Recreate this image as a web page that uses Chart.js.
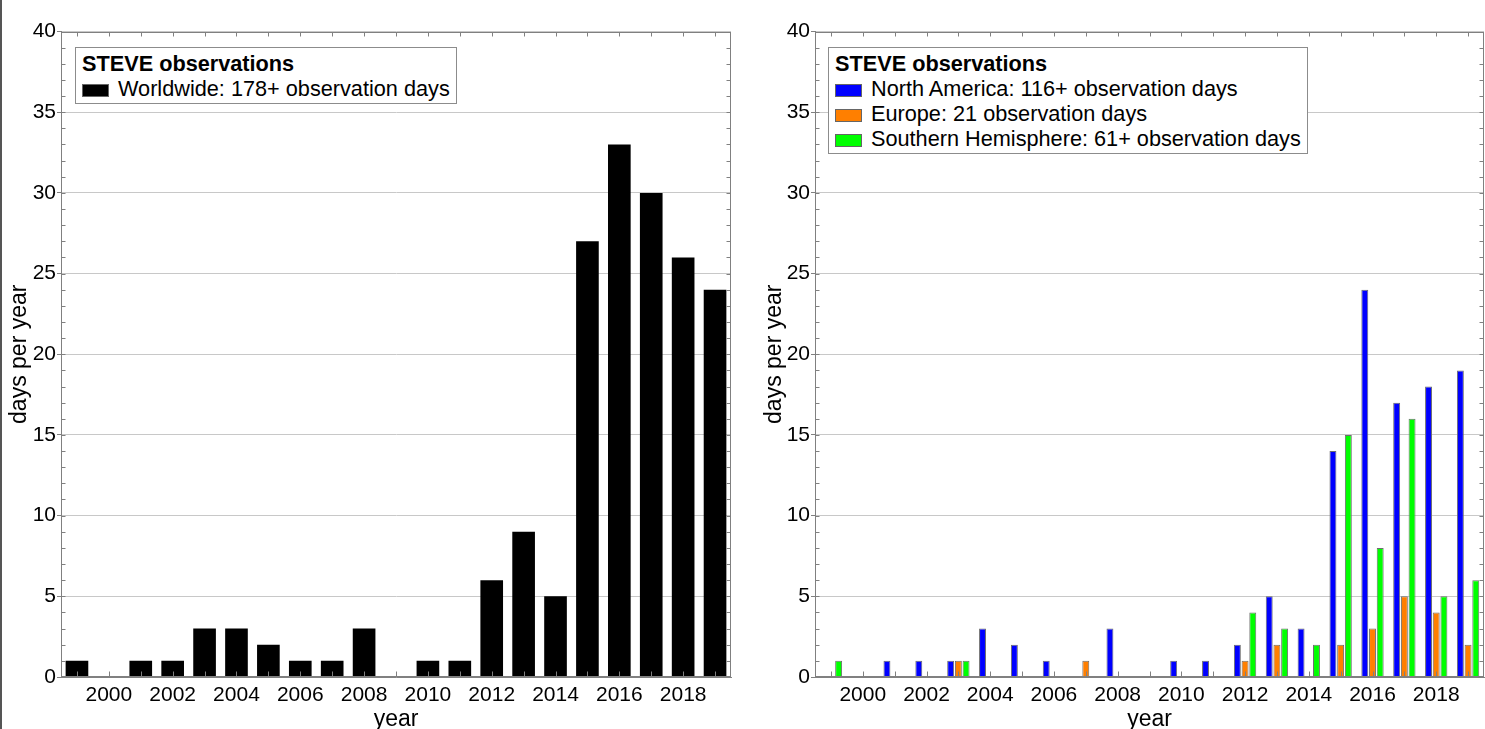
<!DOCTYPE html>
<html>
<head>
<meta charset="utf-8">
<title>STEVE observations</title>
<script src="https://cdn.jsdelivr.net/npm/chart.js@4/dist/chart.umd.min.js"></script>
<style>
  body { margin: 0; background: #fff; width: 1485px; height: 729px; overflow: hidden; position: relative;
         font-family: "Liberation Sans", Arial, sans-serif; }
  .edge { position: absolute; left: 0; top: 0; width: 2px; height: 729px; background: #555; }
  #left { position: absolute; left: 0; top: 0; }
  #right { position: absolute; left: 755px; top: 0; }
  .legend { position: absolute; top: 47px; background: #fff; border: 1px solid #8c8c8c;
            padding: 3px 6px 2px 6px; font-size: 21.7px; line-height: 25px; color: #000; white-space: nowrap; }
  .legend .ttl { font-weight: bold; }
  .legend .sw { display: inline-block; width: 25px; height: 11px; border: 1px solid #666;
                margin-right: 9px; vertical-align: -1px; }
</style>
</head>
<body>
<div class="edge"></div>
<canvas id="left" width="755" height="729"></canvas>
<canvas id="right" width="730" height="729"></canvas>
<div class="legend" id="legLeft" style="left:75px"></div>
<div class="legend" id="legRight" style="left:828px"></div>
<script>
// data
var years = ['1999', '2000', '2001', '2002', '2003', '2004', '2005', '2006', '2007', '2008', '2009',
             '2010', '2011', '2012', '2013', '2014', '2015', '2016', '2017', '2018', '2019'];
var worldwide    = [1, 0, 1, 1, 3, 3, 2, 1, 1, 3, 0, 1, 1, 6, 9, 5, 27, 33, 30, 26, 24];
var northAmerica = [0, 0, 1, 1, 1, 3, 2, 1, 0, 3, 0, 1, 1, 2, 5, 3, 14, 24, 17, 18, 19];
var europe       = [0, 0, 0, 0, 1, 0, 0, 0, 1, 0, 0, 0, 0, 1, 2, 0, 2, 3, 5, 4, 2];
var southern     = [1, 0, 0, 0, 1, 0, 0, 0, 0, 0, 0, 0, 0, 4, 3, 2, 15, 8, 16, 5, 6];

var legendTitle = 'STEVE observations';
var leftLabels = ['Worldwide: 178+ observation days'];
var rightLabels = ['North America: 116+ observation days', 'Europe: 21 observation days',
                   'Southern Hemisphere: 61+ observation days'];
var leftColors = ['#000000'];
var rightColors = ['#0000ff', '#ff7f00', '#00ff00'];

// frame round the plot plus small inward ticks (each year / each day)
var framePlugin = {
    id: 'frame',
    afterDraw: function(chart) {
        var ctx = chart.ctx, a = chart.chartArea;
        var x = chart.scales.x, y = chart.scales.y;
        var l = Math.round(a.left) + 0.5, r = Math.round(a.right) - 0.5;
        var t = Math.round(a.top) + 0.5, b = Math.round(a.bottom) - 0.5;
        ctx.save();
        ctx.strokeStyle = '#808080';
        ctx.lineWidth = 1;
        ctx.strokeRect(l, t, r - l, b - t);
        ctx.beginPath();
        for (var v = 0; v <= 40; v++) {
            var py = Math.round(y.getPixelForValue(v)) + 0.5;
            ctx.moveTo(l, py); ctx.lineTo(l + 4, py);
            ctx.moveTo(r, py); ctx.lineTo(r - 4, py);
        }
        for (var i = 0; i < years.length; i++) {
            var px = Math.round(x.getPixelForTick(i)) + 0.5;
            ctx.moveTo(px, t); ctx.lineTo(px, t + 4);
            ctx.moveTo(px, b); ctx.lineTo(px, b - 5);
        }
        ctx.stroke();
        ctx.restore();
    }
};

function makeOptions(yWidth, padRight) {
    return {
        responsive: false,
        animation: false,
        devicePixelRatio: 1,
        layout: { padding: { left: 0, top: 31.5, right: padRight, bottom: 0 } },
        plugins: { legend: { display: false }, tooltip: { enabled: false } },
        scales: {
            x: {
                grid: { display: false, drawTicks: false },
                border: { color: '#808080' },
                ticks: {
                    color: '#000', font: { size: 21, family: 'Liberation Sans' },
                    autoSkip: false, maxRotation: 0, padding: 6,
                    callback: function(value) {
                        var lbl = this.getLabelForValue(value);
                        return Number(lbl) % 2 === 0 ? lbl : '';
                    }
                },
                title: { display: true, text: 'year', color: '#000',
                         font: { size: 23, family: 'Liberation Sans' }, padding: { top: 0, bottom: -4 } },
                afterFit: function(s) { s.height = 52; }
            },
            y: {
                min: 0, max: 40,
                grid: { color: '#c8c8c8', tickLength: 4, tickColor: '#808080' },
                border: { color: '#808080' },
                ticks: { stepSize: 5, color: '#000', font: { size: 21, family: 'Liberation Sans' }, padding: 1 },
                title: { display: true, text: 'days per year', color: '#000',
                         font: { size: 23, family: 'Liberation Sans' }, padding: { top: 6, bottom: 0 } },
                afterFit: function(s) { s.width = yWidth; }
            }
        }
    };
}

new Chart(document.getElementById('left'), {
    type: 'bar',
    data: {
        labels: years,
        datasets: [{
            label: leftLabels[0], data: worldwide, backgroundColor: leftColors[0],
            borderWidth: 0, categoryPercentage: 0.71, barPercentage: 1.0
        }]
    },
    options: makeOptions(61, 24),
    plugins: [framePlugin]
});

var rightData = [northAmerica, europe, southern];
new Chart(document.getElementById('right'), {
    type: 'bar',
    data: {
        labels: years,
        datasets: rightData.map(function(d, i) {
            return {
                label: rightLabels[i], data: d, backgroundColor: rightColors[i],
                borderColor: '#6e6e6e', borderWidth: 1, borderSkipped: 'start',
                categoryPercentage: 0.725, barPercentage: 0.9
            };
        })
    },
    options: makeOptions(60, 1),
    plugins: [framePlugin]
});

// legends inside the plots, built from the same labels and colours
function buildLegend(el, labels, colors) {
    var html = '<div class="ttl">' + legendTitle + '</div>';
    for (var i = 0; i < labels.length; i++) {
        html += '<div><span class="sw" style="background:' + colors[i] + '"></span>' + labels[i] + '</div>';
    }
    el.innerHTML = html;
}
buildLegend(document.getElementById('legLeft'), leftLabels, leftColors);
buildLegend(document.getElementById('legRight'), rightLabels, rightColors);
</script>
</body>
</html>
